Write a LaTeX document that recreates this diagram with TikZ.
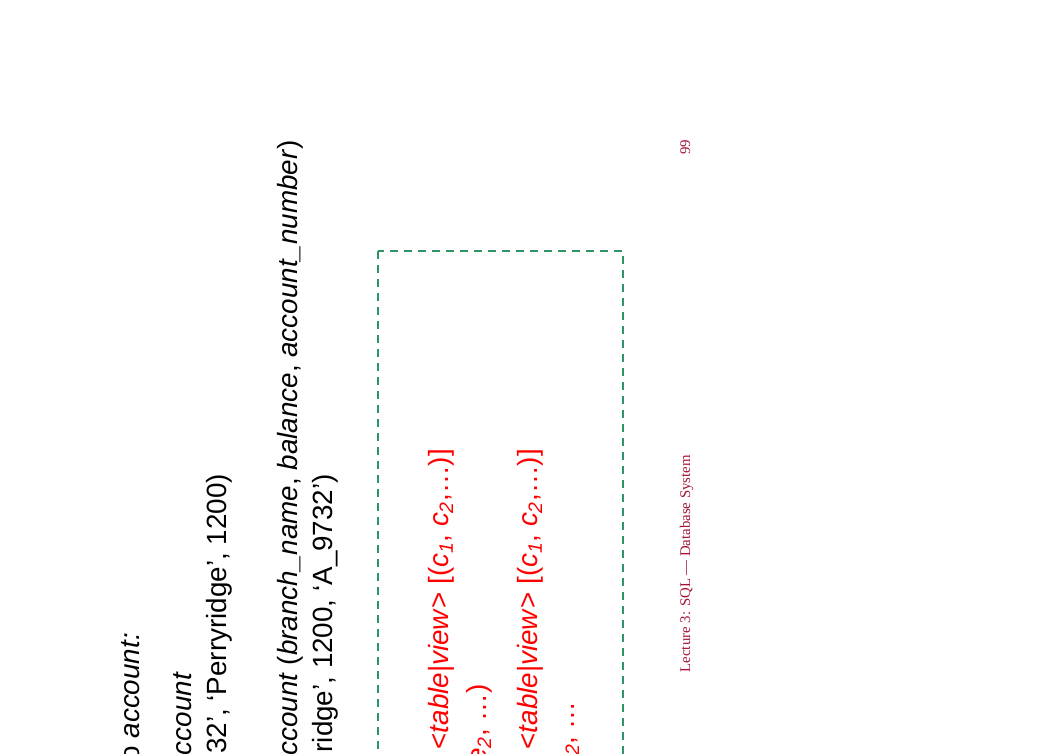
\documentclass[tikz,border=0pt]{standalone}
\usepackage{fontspec}
\setmainfont{Liberation Sans}
\newfontfamily\footfont{Liberation Serif}
\definecolor{boxgreen}{RGB}{46,150,100}
\definecolor{footred}{RGB}{165,20,55}
\begin{document}
\begin{tikzpicture}[x=1pt,y=1pt]
\useasboundingbox (0,0) rectangle (1053,-754);
\clip (0,0) rectangle (1053,-754);
\tikzset{
  txt/.style={rotate=90, anchor=base east, inner sep=0pt, font=\fontsize{27.8}{33}\selectfont},
  redtxt/.style={txt, text=red},
  foot/.style={rotate=90, anchor=base east, inner sep=0pt, text=footred, font=\footfont\fontsize{14.8}{17}\selectfont},
  dashbox/.style={draw=boxgreen, line width=1.5pt, dash pattern=on 8pt off 6pt}
}
% black example lines
\node[txt] (l1) at (139.5,-633) {o \textit{account:}};
\node[txt] (l2) at (191,-672) {\textit{ccount}};
\node[txt] (l3) at (226,-474) {32’, ‘Perryridge’, 1200)};
\node[txt] (l4) at (297,-140) {\textit{ccount} (\textit{branch\_name}, \textit{balance}, \textit{account\_number})};
\node[txt] (l5) at (332,-474) {ridge’, 1200, ‘A\_9732’)};
% dashed syntax box
\draw[dashbox] (378,-251) rectangle (623,-800);
\node[redtxt] (r1) at (448,-449) {o <\textit{table}|\textit{view}> [(\textit{c\textsubscript{1}}, \textit{c\textsubscript{2}},\textellipsis)]};
\node[redtxt] (r2) at (486,-684) {\textit{e\textsubscript{2}}, \textellipsis)};
\node[redtxt] (r3) at (537,-449) {o <\textit{table}|\textit{view}> [(\textit{c\textsubscript{1}}, \textit{c\textsubscript{2}},\textellipsis)]};
\node[redtxt] (r4) at (574,-701) {\textit{e\textsubscript{2}}, \textellipsis};
% footer
\node[foot] (pg) at (690,-140) {99};
\node[foot] (ft) at (690,-455) {Lecture 3: SQL — Database System};
\end{tikzpicture}
\end{document}
